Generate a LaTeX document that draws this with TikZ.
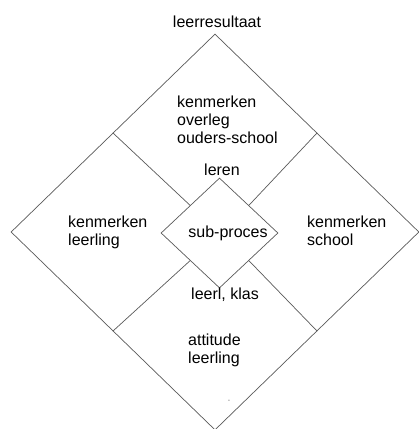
\documentclass[tikz,border=0pt]{standalone}
\usepackage{fontspec}
\setmainfont{Liberation Sans}
\usetikzlibrary{shapes.geometric,calc}

\begin{document}
\begin{tikzpicture}[x=1pt, y=-1pt,
  ruit/.style={draw=black!65, line width=0.7pt, shape=diamond, inner sep=0pt, aspect=1},
  deel/.style={draw=black!65, line width=0.7pt},
  lab/.style={font=\fontsize{16}{18}\selectfont, inner sep=0pt, align=left, anchor=base west},
  mid/.style={font=\fontsize{16}{18}\selectfont, inner sep=0pt, anchor=base}
]
\useasboundingbox (0,0) rectangle (419,429);
% the diamonds
\node[ruit, minimum width=408pt, minimum height=396pt] (geheel) at (215,232) {};
\node[ruit, minimum width=117pt, minimum height=110pt] (kern) at (219.5,233) {};

% the four parts
\draw[deel] ($(geheel.north)!0.5!(geheel.west)$) -- ($(kern.north)!0.5!(kern.west)$);
\draw[deel] ($(geheel.north)!0.5!(geheel.east)$) -- ($(kern.north)!0.5!(kern.east)$);
\draw[deel] ($(geheel.south)!0.5!(geheel.west)$) -- ($(kern.south)!0.5!(kern.west)$);
\draw[deel] ($(geheel.south)!0.5!(geheel.east)$) -- ($(kern.south)!0.5!(kern.east)$);

% texts (base = last line)
\node[mid] (resultaat) at (217,27) {leerresultaat};
\node[lab] (overleg) at (177,143.5) {kenmerken\\overleg\\ouders-school};
\node[mid] (leren) at (222,175.5) {leren};
\node[lab] (leerling) at (68,245.5) {kenmerken\\leerling};
\node[mid] (subproces) at (228,237.5) {sub-proces};
\node[lab] (school) at (307,245.5) {kenmerken\\school};
\node[mid] (klas) at (225,299.5) {leerl, klas};
\node[lab] (attitude) at (188,363.5) {attitude\\leerling};
\node[font=\fontsize{7}{8}\selectfont, text=black!60, inner sep=0pt] (streep) at (229,401) {-};
\end{tikzpicture}
\end{document}
